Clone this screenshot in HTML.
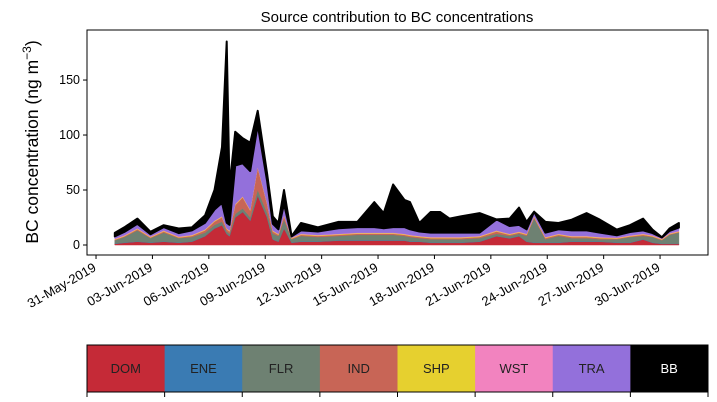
<!DOCTYPE html>
<html><head><meta charset="utf-8">
<style>
body{margin:0;background:#fff;}
svg{display:block;font-family:"Liberation Sans","DejaVu Sans",sans-serif;}
</style></head>
<body>
<svg id="chart" width="717" height="402" viewBox="0 0 717 402" xmlns="http://www.w3.org/2000/svg">
<text x="397" y="22" font-size="15" text-anchor="middle">Source contribution to BC concentrations</text>
<text transform="translate(38,142) rotate(-90)" font-size="17.5" text-anchor="middle">BC concentration (ng m<tspan font-size="12" dy="-7">−3</tspan><tspan dy="7">)</tspan></text>
<g id="areas"></g>
<g id="axes"></g>
<g id="legend"></g>
</svg>
<script>
const days=[0,0.5,1.2,1.9,2.6,3.4,4.1,4.8,5.3,5.7,5.95,6.1,6.4,6.8,7.2,7.6,8.1,8.4,8.7,9.0,9.4,9.9,10.8,11.9,12.9,13.8,14.3,14.8,15.4,15.7,16.2,16.8,17.3,17.8,18.4,19.4,20.3,21.0,21.5,21.9,22.3,22.9,23.6,24.3,25.1,25.8,26.7,27.4,28.1,28.6,29.1,29.5,30];
const totalBC=[11,16,24,12,18,15,16,27,50,89,185,53,103,97,93,122,65,26,20,50,8,20,16,21,21,39,29,55,41,39,20,30,30,24,26,29,21,24,34,21,30,21,20,23,29,23,14,18,24,14,7,15,20];
const domVals=[1,2,3,2,3,2,3,8,15,18,10,8,25,30,22,45,25,5,3,15,2,3,3,4,4,4,4,4,4,3,3,2,2,2,2,3,8,6,8,3,2,2,2,3,3,3,2,2,5,2,1,1,1];
const flrVals=[3,5,10,4,8,4,4,3,3,3,2,2,3,3,3,5,4,5,5,8,3,5,4,4,5,5,5,5,4,4,3,3,3,3,3,3,2,2,2,5,22,3,6,3,3,2,3,5,3,5,3,8,10];
const indVals=[0.5,0.5,1,0.5,1,0.5,1,2,3,4,2,2,8,10,6,20,8,2,1,3,0.5,1,1,1,1,1,1,1,1,1,1,1,1,1,1,1,2,1,1,1,1,1,1,1,1,1,0.5,0.5,1,0.5,0.5,0.5,0.5];
const traVals=[2,3,4,2,3,3,4,6,10,12,5,5,35,30,35,38,20,6,4,10,1,3,3,5,5,5,4,5,6,5,4,4,4,4,4,3,10,7,6,4,4,4,4,5,5,4,2,3,3,2,1,2,3];
const eneVal=0.3, shpVal=0.5, wstVal=0.5;
const yTicks=[0,50,100,150];
const xTickDays=[-1,2,5,8,11,14,17,20,23,26,29];
const xTickLabels=["31-May-2019","03-Jun-2019","06-Jun-2019","09-Jun-2019","12-Jun-2019","15-Jun-2019","18-Jun-2019","21-Jun-2019","24-Jun-2019","27-Jun-2019","30-Jun-2019"];
const sources=["DOM","ENE","FLR","IND","SHP","WST","TRA","BB"];
const colors=["#c52a37","#3a7bb3","#6e8172","#c86556","#e6d02f","#f283bf","#9370db","#000000"];

const NS="http://www.w3.org/2000/svg";
const L=87,R=708,T=30,B=255;
const dMin=-1.48,dMax=31.55,vMin=-9.1,vMax=195.5;
function xs(d){return L+(d-dMin)/(dMax-dMin)*(R-L);}
function ys(v){return B-(v-vMin)/(vMax-vMin)*(B-T);}
function mk(tag,attrs,parent){const e=document.createElementNS(NS,tag);for(const k in attrs)e.setAttribute(k,attrs[k]);parent.appendChild(e);return e;}

const n=days.length;
const layers=days.map((d,i)=>{
  const parts=[domVals[i],eneVal,flrVals[i],indVals[i],shpVal,wstVal,traVals[i]];
  const s=parts.reduce((a,b)=>a+b,0);
  parts.push(Math.max(0,totalBC[i]-s));
  return parts;
});
const areas=document.getElementById('areas');
let base=new Array(n).fill(0);
for(let k=0;k<sources.length;k++){
  const top=base.map((b,i)=>b+layers[i][k]);
  let p="M"+days.map((d,i)=>xs(d).toFixed(1)+","+ys(top[i]).toFixed(1)).join("L");
  for(let i=n-1;i>=0;i--)p+="L"+xs(days[i]).toFixed(1)+","+ys(base[i]).toFixed(1);
  p+="Z";
  const a=mk('path',{d:p,fill:colors[k],stroke:colors[k],'stroke-width':k===7?2:0.5,'stroke-linejoin':'round'},areas);
  
  
  base=top;
}

const axes=document.getElementById('axes');
const frame=mk('rect',{x:L,y:T,width:R-L,height:B-T,fill:'none',stroke:'#000','stroke-width':1},axes);


yTicks.forEach(v=>{
  const y=ys(v);
  mk('line',{x1:L-4,x2:L,y1:y,y2:y,stroke:'#000'},axes);
  const t=mk('text',{x:L-7,y:y+4,'font-size':12.5,'text-anchor':'end'},axes);
  t.textContent=v;
  
  
});
xTickDays.forEach((d,i)=>{
  const x=xs(d);
  mk('line',{x1:x,x2:x,y1:B,y2:B+4,stroke:'#000'},axes);
  const t=mk('text',{transform:`translate(${x+1},${B+15}) rotate(-30)`,'font-size':13,'text-anchor':'end'},axes);
  t.textContent=xTickLabels[i];
  
  
});

const lg=document.getElementById('legend');
const segW=(R-L)/sources.length;
sources.forEach((s,i)=>{
  const x=L+i*segW;
  const r=mk('rect',{x:x,y:345,width:segW+0.5,height:47,fill:colors[i]},lg);
  
  
  const t=mk('text',{x:x+segW/2,y:373,'font-size':13,'text-anchor':'middle',fill:i===7?'#fff':'#222'},lg);
  t.textContent=s;
  
  
});
for(let i=0;i<=sources.length;i++){
  const x=L+i*segW;
  mk('line',{x1:x,x2:x,y1:392,y2:397,stroke:'#000'},lg);
}
mk('rect',{x:L,y:345,width:R-L,height:47,fill:'none',stroke:'#000','stroke-width':1},lg);
</script>
</body></html>
